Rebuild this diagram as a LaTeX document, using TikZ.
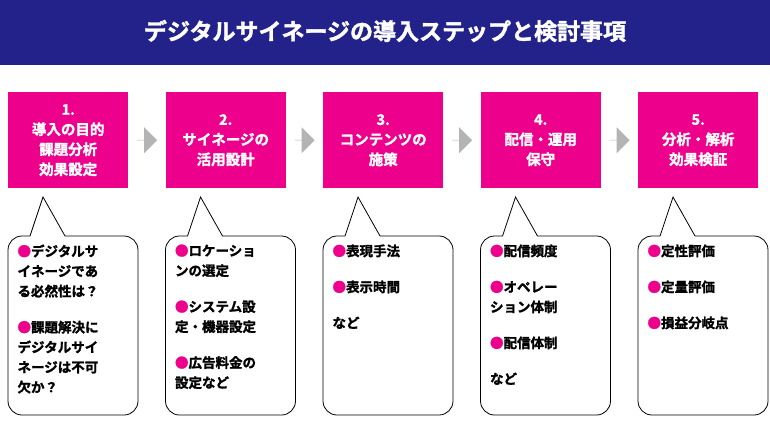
\documentclass[tikz,border=0pt]{standalone}
\usepackage{fontspec}
\setmainfont{Noto Sans CJK JP Bold}[FakeBold=1.6]
\usetikzlibrary{shapes.arrows,positioning,calc}
\definecolor{titleblue}{HTML}{22228A}
\definecolor{steppink}{HTML}{EC008C}
\definecolor{arrowgray}{HTML}{B4B4B4}
\tikzset{stepbox/.style={fill=steppink, text=white, minimum width=120pt, minimum height=96pt, inner sep=0pt, align=center, font=\fontsize{14.5}{20}\selectfont}}
\tikzset{callout/.style={draw=black, line width=0.8pt, fill=white}}
\tikzset{gapArrow/.style={single arrow, fill=arrowgray, minimum height=20pt, minimum width=26pt, single arrow head extend=11pt, single arrow head indent=0pt, shape border uses incircle=false, inner sep=0pt}}
\newcommand{\pk}{{\color{steppink}●}}
\begin{document}
\begin{tikzpicture}[x=1pt,y=-1pt]
	\useasboundingbox (0,0) rectangle (770,421);
	% title
	\fill[titleblue] (0,0) rectangle (770,65);
	\node[text=white, font=\fontsize{23}{26}\selectfont] (title) at (385,31) {デジタルサイネージの導入ステップと検討事項};

	% steps
	\foreach \i/\txt in {1/{1.\\導入の目的\\課題分析\\効果設定}, 2/{2.\\サイネージの\\活用設計}, 3/{3.\\コンテンツの\\施策}, 4/{4.\\配信・運用\\保守}, 5/{5.\\分析・解析\\効果検証}}{
		\pgfmathsetmacro{\xl}{8+157.5*(\i-1)}
		\node[stepbox, anchor=north west] (s\i) at (\xl,92) {\txt};
		% callout
		\draw[callout, rounded corners=14] (\xl,236) rectangle (\xl+130,415);
		\fill[white] (\xl+22,236.8) -- (\xl+35,197) -- (\xl+57,236.8) -- cycle;
		\draw[callout, fill=none] (\xl+22,236) -- (\xl+35,197) -- (\xl+57,236);
		\coordinate (c\i) at (\xl+6,241);
	}

	% arrows between steps
	\foreach \i [evaluate=\i as \j using int(\i+1)] in {1,2,3,4}{
		\node[gapArrow] (a\i) at ($(s\i.east)!0.5!(s\j.west)$) {};
	}

	% callout texts
	\tikzset{every node/.style={anchor=north west, align=left, font=\fontsize{13.5}{20}\selectfont}}
	\node (t1) at (c1) {\pk デジタルサ\\イネージであ\\る必然性は？\\[16pt]\pk 課題解決に\\デジタルサイ\\ネージは不可\\欠か？};
	\node (t2) at (c2) {\pk ロケーショ\\ンの選定\\[16pt]\pk システム設\\定・機器設定\\[16pt]\pk 広告料金の\\設定など};
	\node (t3) at (c3) {\pk 表現手法\\[16pt]\pk 表示時間\\[16pt]など};
	\node (t4) at (c4) {\pk 配信頻度\\[16pt]\pk オペレー\\ション体制\\[16pt]\pk 配信体制\\[16pt]など};
	\node (t5) at (c5) {\pk 定性評価\\[16pt]\pk 定量評価\\[16pt]\pk 損益分岐点};
\end{tikzpicture}
\end{document}
